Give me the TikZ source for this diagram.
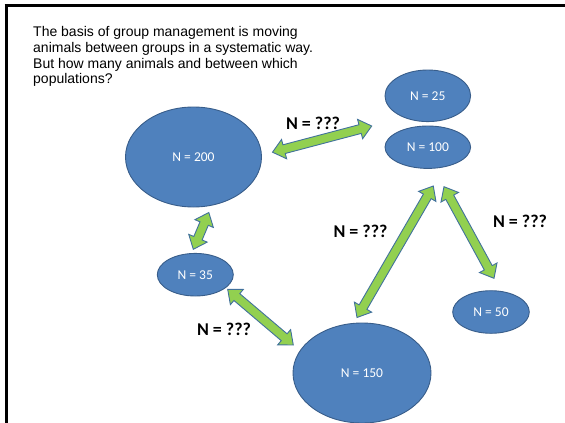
\documentclass[tikz,border=0pt]{standalone}
\usepackage{fontspec}
\setmainfont{Liberation Sans}
\newfontfamily\calib{Carlito}
\usetikzlibrary{shapes.geometric,calc}
\definecolor{popfill}{HTML}{4F81BD}
\definecolor{popline}{HTML}{385D8A}
\definecolor{arrfill}{HTML}{92D050}
\definecolor{arrline}{HTML}{41719C}
\tikzset{
  pop/.style={ellipse, draw=popline, fill=popfill, line width=0.9pt, inner sep=0pt,
    text=white, font=\calib\fontsize{13.5}{15}\selectfont},
  qlabel/.style={font=\calib\bfseries\fontsize{18}{20}\selectfont, inner sep=0pt},
  garrow/.style={draw=arrline, fill=arrfill, line width=0.9pt, line join=miter},
}
\newcommand\hl{12pt}
\newcommand\hw{10pt}
\newcommand\sw{4.5pt}
\newcommand\dblarr[2]{%
\draw[garrow] (#1) -- ($(#1)!\hl!(#2)!\hw!90:(#2)$) -- ($(#1)!\hl!(#2)!\sw!90:(#2)$)
 -- ($(#2)!\hl!(#1)!\sw!-90:(#1)$) -- ($(#2)!\hl!(#1)!\hw!-90:(#1)$) -- (#2)
 -- ($(#2)!\hl!(#1)!\hw!90:(#1)$) -- ($(#2)!\hl!(#1)!\sw!90:(#1)$)
 -- ($(#1)!\hl!(#2)!\sw!-90:(#2)$) -- ($(#1)!\hl!(#2)!\hw!-90:(#2)$) -- cycle;}
\begin{document}
\begin{tikzpicture}[x=1pt,y=-1pt]
\useasboundingbox (0,0) rectangle (565,423);
% frame lines
\coordinate (tl) at (4.5,5.7);
\coordinate (tr) at (565,5.7);
\coordinate (lt) at (6,5.7);
\coordinate (lb) at (6,423);
\draw[line width=3.3pt] (tl) -- (tr);
\draw[line width=3pt] (lt) -- (lb);
% heading text
\node[anchor=north west, inner sep=0pt, align=left, font=\fontsize{14}{15.7}\selectfont] (head) at (33,26.5)
  {The basis of group management is moving\\animals between groups in a systematic way.\\But how many animals and between which\\populations?};
% populations
\node[pop, minimum width=136pt, minimum height=100pt] (p200) at (193.5,157) {N = 200};
\node[pop, minimum width=76pt, minimum height=42.6pt] (p35) at (195.3,274.7) {N = 35};
\node[pop, minimum width=85.6pt, minimum height=51.6pt] (p25) at (427.8,95.8) {N = 25};
\node[pop, minimum width=85.6pt, minimum height=42.4pt] (p100) at (427.8,147.2) {N = 100};
\node[pop, minimum width=138pt, minimum height=100pt] (p150) at (362,373) {N = 150};
\node[pop, minimum width=76.6pt, minimum height=42.6pt] (p50) at (491,312) {N = 50};
% arrow tips
\coordinate (a1s) at (272.5,152.2);
\coordinate (a1e) at (371.7,126);
\coordinate (a2s) at (208.8,212.5);
\coordinate (a2e) at (193.3,249.3);
\coordinate (a3s) at (227.7,289.3);
\coordinate (a3e) at (293.3,345);
\coordinate (a4s) at (433.3,186);
\coordinate (a4e) at (357,317.5);
\coordinate (a5s) at (444,186.7);
\coordinate (a5e) at (494,278.3);
\dblarr{a1s}{a1e}
\dblarr{a2s}{a2e}
\dblarr{a3s}{a3e}
\dblarr{a4s}{a4e}
\dblarr{a5s}{a5e}
% labels
\node[qlabel] (q1) at (313,123.3) {N = ???};
\node[qlabel] (q2) at (360.5,231) {N = ???};
\node[qlabel] (q3) at (520,221.7) {N = ???};
\node[qlabel] (q4) at (224,329.3) {N = ???};
\end{tikzpicture}
\end{document}
